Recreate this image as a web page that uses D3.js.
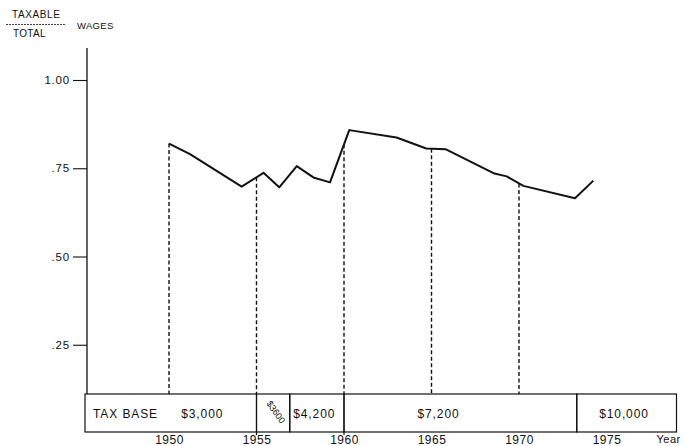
<!DOCTYPE html>
<html><head><meta charset="utf-8">
<script src="https://cdn.jsdelivr.net/npm/d3@7"></script>
<style>
html,body{margin:0;padding:0;background:#fff;}
svg{display:block;font-family:"Liberation Sans",Arial,Helvetica,sans-serif;}
</style></head>
<body>
<svg id="chart" width="685" height="446"></svg>
<script>
// ---- data ----
const years = [1950, 1951.2, 1954.15, 1955.4, 1956.3, 1957.3, 1958.25, 1959.2, 1960.3, 1963.0, 1964.7, 1965.8, 1968.6, 1969.3, 1970.25, 1973.2, 1974.25];
const ratio = [0.82, 0.79, 0.698, 0.737, 0.696, 0.756, 0.724, 0.710, 0.858, 0.837, 0.806, 0.804, 0.735, 0.727, 0.70, 0.665, 0.715];
const dropYears = [1950, 1955, 1960, 1965, 1970];
const xTickYears = [1950, 1955, 1960, 1965, 1970, 1975];
const yTickValues = [0.25, 0.50, 0.75, 1.00];
const yTickLabels = [".25", ".50", ".75", "1.00"];
const baseStart = [1945.2, 1955, 1956.9, 1960, 1973.3];
const baseEnd = [1955, 1956.9, 1960, 1973.3, 1979];
const baseLabels = ["$3,000", "$3600", "$4,200", "$7,200", "$10,000"];
const baseLabelYears = [1951.9, 1956, 1958.3, 1965.4, 1976];

// ---- layout ----
const svg = d3.select("#chart");
const ink = "#111";
const x = d3.scaleLinear().domain([1950, 1975]).range([169, 606.5]);
const y = d3.scaleLinear().domain([0, 1]).range([433, 80]);
const tableTop = 394, tableBottom = 432, axisTop = 48;

// y axis
const yAxis = d3.axisLeft(y).tickValues(yTickValues)
  .tickFormat((d, i) => yTickLabels[i]).tickSize(14).tickPadding(3);
const gy = svg.append("g").attr("transform", "translate(87,0)").call(yAxis);
gy.select(".domain").remove();
gy.selectAll(".tick line").attr("stroke", ink).attr("stroke-width", 1.1);
gy.selectAll(".tick text").attr("fill", ink).style("font-size", "11.5px").style("letter-spacing", "0.8px");
svg.append("line").attr("x1", 87).attr("x2", 87).attr("y1", axisTop).attr("y2", tableTop)
  .attr("stroke", ink).attr("stroke-width", 1.3);

// main line
const pts = years.map((d, i) => [d, ratio[i]]);
const line = d3.line().x(d => x(d[0])).y(d => y(d[1]));
svg.append("path").datum(pts).attr("d", line)
  .attr("fill", "none").attr("stroke", ink).attr("stroke-width", 2).attr("stroke-linejoin", "round");

// drop lines
const interp = yr => {
  for (let i = 0; i < years.length - 1; i++) {
    if (yr >= years[i] && yr <= years[i + 1]) {
      const t = (yr - years[i]) / (years[i + 1] - years[i]);
      return ratio[i] + t * (ratio[i + 1] - ratio[i]);
    }
  }
  return ratio[0];
};
svg.selectAll(".drop").data(dropYears).enter().append("line")
  .attr("x1", d => x(d)).attr("x2", d => x(d))
  .attr("y1", d => y(interp(d))).attr("y2", tableTop)
  .attr("stroke", ink).attr("stroke-width", 1.4).attr("stroke-dasharray", "4,2.5");

// tax base table
const cells = baseLabels.map((l, i) => ({s: baseStart[i], e: baseEnd[i], l, ly: baseLabelYears[i]}));
svg.selectAll(".cell").data(cells).enter().append("rect")
  .attr("x", d => x(d.s)).attr("width", d => x(d.e) - x(d.s))
  .attr("y", tableTop).attr("height", tableBottom - tableTop)
  .attr("fill", "none").attr("stroke", ink).attr("stroke-width", 1.2);
// small tick extensions of the 1955 / 1960 dividers below the table
svg.selectAll(".ext").data([1955, 1960]).enter().append("line")
  .attr("x1", d => x(d)).attr("x2", d => x(d))
  .attr("y1", tableBottom).attr("y2", tableBottom + 3)
  .attr("stroke", ink).attr("stroke-width", 1.2);
svg.selectAll(".clab").data(cells).enter().append("text")
  .attr("transform", d => d.l === "$3600"
      ? `translate(${x(d.ly) + 2},${(tableTop + tableBottom) / 2 - 1}) rotate(55)`
      : `translate(${x(d.ly)},${(tableTop + tableBottom) / 2 + 4.5})`)
  .attr("text-anchor", "middle").attr("dy", d => d.l === "$3600" ? "0.35em" : 0)
  .attr("fill", ink).style("font-size", d => d.l === "$3600" ? "9px" : "12px")
  .style("letter-spacing", d => d.l === "$3600" ? "0px" : "0.9px")
  .text(d => d.l);
svg.append("text").attr("x", x(baseStart[0]) + 8).attr("y", (tableTop + tableBottom) / 2 + 4.5)
  .attr("fill", ink).style("font-size", "12px").style("letter-spacing", "0.9px").text("TAX BASE");

// x axis labels
const xAxis = d3.axisBottom(x).tickValues(xTickYears).tickFormat(d3.format("d")).tickSize(0).tickPadding(3);
const gx = svg.append("g").attr("transform", `translate(0,${tableBottom})`).call(xAxis);
gx.select(".domain").remove();
gx.selectAll(".tick text").attr("fill", ink).style("font-size", "12px").style("letter-spacing", "0.5px");
svg.append("text").attr("x", x(1975) + 50).attr("y", 443).attr("fill", ink)
  .style("font-size", "11px").style("letter-spacing", "0.5px").text("Year");

// y label (fraction)
svg.append("text").attr("x", 12).attr("y", 18).attr("fill", ink).style("font-size", "10px").style("letter-spacing", "0.6px").text("TAXABLE");
svg.append("line").attr("x1", 6).attr("x2", 66).attr("y1", 24.5).attr("y2", 24.5)
  .attr("stroke", ink).attr("stroke-width", 0.8).attr("stroke-dasharray", "2,1");
svg.append("text").attr("x", 13).attr("y", 37).attr("fill", ink).style("font-size", "10px").style("letter-spacing", "0.3px").text("TOTAL");
svg.append("text").attr("x", 77).attr("y", 29).attr("fill", ink).style("font-size", "9.5px").style("letter-spacing", "0.3px").text("WAGES");
</script>
</body></html>
